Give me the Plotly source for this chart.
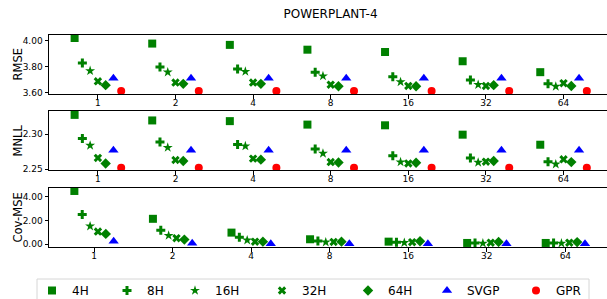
import plotly.graph_objects as go

# ---------------- data ----------------
categories = ["1", "2", "4", "8", "16", "32", "64"]
series_names = ["4H", "8H", "16H", "32H", "64H", "SVGP", "GPR"]

rmse_4h = [4.023, 3.980, 3.970, 3.933, 3.915, 3.844, 3.760]
rmse_8h = [3.830, 3.800, 3.785, 3.760, 3.725, 3.700, 3.670]
rmse_16h = [3.770, 3.760, 3.765, 3.730, 3.685, 3.664, 3.650]
rmse_32h = [3.690, 3.680, 3.680, 3.664, 3.654, 3.654, 3.675]
rmse_64h = [3.660, 3.670, 3.670, 3.652, 3.652, 3.660, 3.654]
rmse_svgp = [3.714, 3.714, 3.714, 3.714, 3.714, 3.714, 3.714]
rmse_gpr = [3.615, 3.615, 3.615, 3.615, 3.615, 3.615, 3.615]

mnll_4h = [2.328, 2.320, 2.319, 2.314, 2.313, 2.2995, 2.285]
mnll_8h = [2.294, 2.289, 2.2855, 2.279, 2.269, 2.266, 2.2605]
mnll_16h = [2.284, 2.281, 2.283, 2.2725, 2.260, 2.2595, 2.257]
mnll_32h = [2.266, 2.263, 2.265, 2.260, 2.258, 2.2605, 2.264]
mnll_64h = [2.258, 2.2615, 2.2635, 2.2595, 2.259, 2.2615, 2.260]
mnll_svgp = [2.277, 2.277, 2.277, 2.277, 2.277, 2.277, 2.277]
mnll_gpr = [2.252, 2.252, 2.252, 2.252, 2.252, 2.252, 2.252]

cov_4h = [4.48, 2.14, 0.98, 0.42, 0.22, 0.11, 0.11]
cov_8h = [2.50, 1.18, 0.59, 0.28, 0.17, 0.11, 0.10]
cov_16h = [1.52, 0.73, 0.34, 0.17, 0.13, 0.08, 0.08]
cov_32h = [1.07, 0.51, 0.22, 0.20, 0.17, 0.13, 0.13]
cov_64h = [0.87, 0.39, 0.22, 0.22, 0.25, 0.20, 0.18]
cov_svgp = [0.26, 0.08, 0.05, 0.05, 0.05, 0.05, 0.05]

rmse = [rmse_4h, rmse_8h, rmse_16h, rmse_32h, rmse_64h, rmse_svgp, rmse_gpr]
mnll = [mnll_4h, mnll_8h, mnll_16h, mnll_32h, mnll_64h, mnll_svgp, mnll_gpr]
cov = [cov_4h, cov_8h, cov_16h, cov_32h, cov_64h, cov_svgp]

# ---------------- style ----------------
GREEN, BLUE, RED = "#008000", "#0000ff", "#ff0000"
styles = [
    dict(symbol="square", size=8, color=GREEN),
    dict(symbol="cross", size=7.5, color=GREEN),
    dict(symbol="star", size=7.5, color=GREEN),
    dict(symbol="x", size=7.5, color=GREEN),
    dict(symbol="diamond", size=8, color=GREEN),
    dict(symbol="triangle-up", size=9, color=BLUE),
    dict(symbol="circle", size=8, color=RED),
]
legend_widths = [30, 23, 42, 41, 34, 44, 30]

idx = list(range(len(categories)))
fig = go.Figure()

def add_panel(values, axis_suffix, showlegend):
    n = len(values)
    for k, vals in enumerate(values):
        off = (k - (n - 1) / 2) * 0.1
        st = styles[k]
        fig.add_trace(go.Scatter(
            x=[i + off for i in idx], y=vals,
            mode="markers", name=series_names[k],
            legendgroup=series_names[k], showlegend=showlegend,
            legendwidth=legend_widths[k],
            marker=dict(symbol=st["symbol"], size=st["size"], color=st["color"],
                        line=dict(width=0)),
            xaxis="x" + axis_suffix, yaxis="y" + axis_suffix,
        ))

add_panel(rmse, "", True)
add_panel(mnll, "2", False)
add_panel(cov, "3", False)

W, H = 607, 299
L, R, T, B = 49, 0, 35, 52
ph = H - T - B
pw = W - L - R

def ypaper(px):
    return (T + ph - px) / ph

def xpaper(px):
    return (px - L) / pw

axis_common = dict(
    showline=True, linecolor="black", linewidth=1, showgrid=False, zeroline=False,
    ticks="outside", ticklen=3.5, tickwidth=1, tickcolor="black",
    tickfont=dict(family="DejaVu Sans", size=9, color="black"),
)

xa = dict(axis_common, tickmode="array", tickvals=idx, ticktext=categories, mirror=True,
          ticklabelstandoff=-3)

fig.update_layout(
    width=W, height=H,
    margin=dict(l=L, r=R, t=T, b=B, pad=0, autoexpand=False),
    paper_bgcolor="white", plot_bgcolor="white",
    title=dict(text="POWERPLANT-4", x=330.5 / W, xanchor="center",
               y=1 - 10 / H, yanchor="top",
               font=dict(family="DejaVu Sans", size=12, color="black")),
    xaxis=dict(xa, range=[-0.63, 6.56], anchor="y"),
    xaxis2=dict(xa, range=[-0.63, 6.56], anchor="y2"),
    xaxis3=dict(xa, range=[-0.573, 6.53], anchor="y3"),
    yaxis=dict(axis_common, domain=[ypaper(94), ypaper(35)],
               range=[3.592, 4.046], tickvals=[3.6, 3.8, 4.0], tickformat=".2f", anchor="x"),
    yaxis2=dict(axis_common, domain=[ypaper(170), ypaper(111)],
                range=[2.2486, 2.3336], tickvals=[2.25, 2.30], tickformat=".2f", anchor="x2"),
    yaxis3=dict(axis_common, domain=[ypaper(247), ypaper(188)],
                range=[-0.23, 4.73], tickvals=[0, 2, 4], tickformat=".2f", anchor="x3"),
    legend=dict(
        orientation="h", x=xpaper(32), xanchor="left",
        y=ypaper(276), yanchor="top",
        borderwidth=0, bgcolor="rgba(0,0,0,0)",
        font=dict(family="DejaVu Sans", size=12, color="black"),
        entrywidthmode="pixels",
    ),
    showlegend=True,
)

# legend frame (matplotlib-style light grey box)
fig.add_shape(type="rect", xref="paper", yref="paper",
              x0=xpaper(37), x1=xpaper(589), y0=ypaper(279), y1=ypaper(312),
              line=dict(color="#d6d6d6", width=1), fillcolor="rgba(0,0,0,0)", layer="below")

for text, ycen in [("RMSE", 64.5), ("MNLL", 140.5), ("Cov-MSE", 217.5)]:
    fig.add_annotation(
        text=text, textangle=-90, showarrow=False,
        xref="paper", yref="paper",
        x=xpaper(17), y=ypaper(ycen),
        xanchor="center", yanchor="middle",
        font=dict(family="DejaVu Sans", size=11.5, color="black"),
    )

fig.write_html(
    "out.html",
    config={"displayModeBar": False},
    post_script="document.body.style.margin='0';document.body.style.overflow='hidden';",
)
